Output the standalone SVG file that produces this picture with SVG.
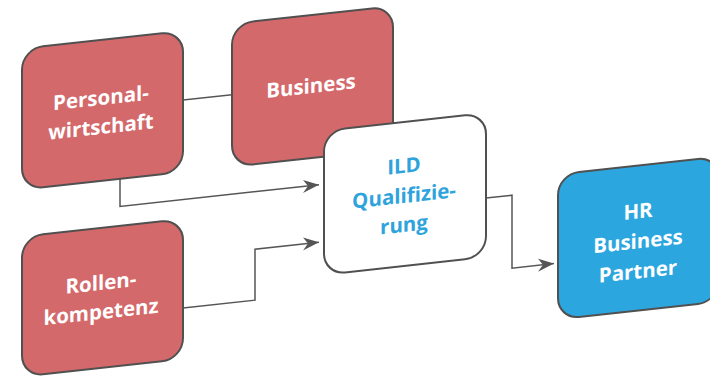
<svg xmlns="http://www.w3.org/2000/svg" width="710" height="376" viewBox="0 0 710 376">
  <style>
    .box { stroke: #505050; stroke-width: 2; }
    .red { fill: #D4696B; }
    .white { fill: #FFFFFF; }
    .blue { fill: #2CA6DF; }
    .label { font-family: "Open Sans", "Liberation Sans", sans-serif; font-weight: bold; font-size: 20.5px; text-anchor: middle; fill: #FFFFFF; }
    .label.dark { fill: #2EA3DC; }
    .wire { fill: none; stroke: #555555; stroke-width: 1.5; }
  </style>
  <defs>
    <marker id="arrow" markerUnits="userSpaceOnUse" markerWidth="18" markerHeight="14" viewBox="-17 -7 18 14" refX="0" refY="0" orient="auto">
      <path d="M0,0 L-16,-6.5 L-11,0 L-16,6.5 Z" fill="#555555"/>
    </marker>
  </defs>
  <rect width="710" height="376" fill="#FFFFFF"/>
  <!-- whole drawing is sheared so that horizontals rise to the right -->
  <g transform="matrix(1,-0.109,0,1,0,0)">
    <g id="connectors">
      <path class="wire" d="M183,120 H232"/>
      <path class="wire" d="M120,192 V219.5 H319" marker-end="url(#arrow)"/>
      <path class="wire" d="M183,328 H255 V277 H319" marker-end="url(#arrow)"/>
      <path class="wire" d="M486,251 H512 V324 H554" marker-end="url(#arrow)"/>
    </g>
    <g id="personalwirtschaft">
      <rect class="box red" x="22" y="51" width="161" height="141" rx="21"/>
      <text class="label" x="101" y="116">Personal-</text>
      <text class="label" x="101" y="145">wirtschaft</text>
    </g>
    <g id="business">
      <rect class="box red" x="232" y="49" width="161" height="143" rx="21"/>
      <text class="label" x="311" y="127">Business</text>
    </g>
    <g id="rollenkompetenz">
      <rect class="box red" x="22" y="239" width="161" height="140" rx="21"/>
      <text class="label" x="101" y="301">Rollen-</text>
      <text class="label" x="101" y="330">kompetenz</text>
    </g>
    <g id="ild-qualifizierung">
      <rect class="box white" x="324" y="166" width="162" height="144" rx="21"/>
      <text class="label dark" x="404" y="217">ILD</text>
      <text class="label dark" x="404" y="247">Qualifizie-</text>
      <text class="label dark" x="404" y="276">rung</text>
    </g>
    <g id="hr-business-partner">
      <rect class="box blue" x="558" y="235" width="161" height="145" rx="21"/>
      <text class="label" x="638" y="288">HR</text>
      <text class="label" x="638" y="318">Business</text>
      <text class="label" x="638" y="348">Partner</text>
    </g>
  </g>
</svg>
